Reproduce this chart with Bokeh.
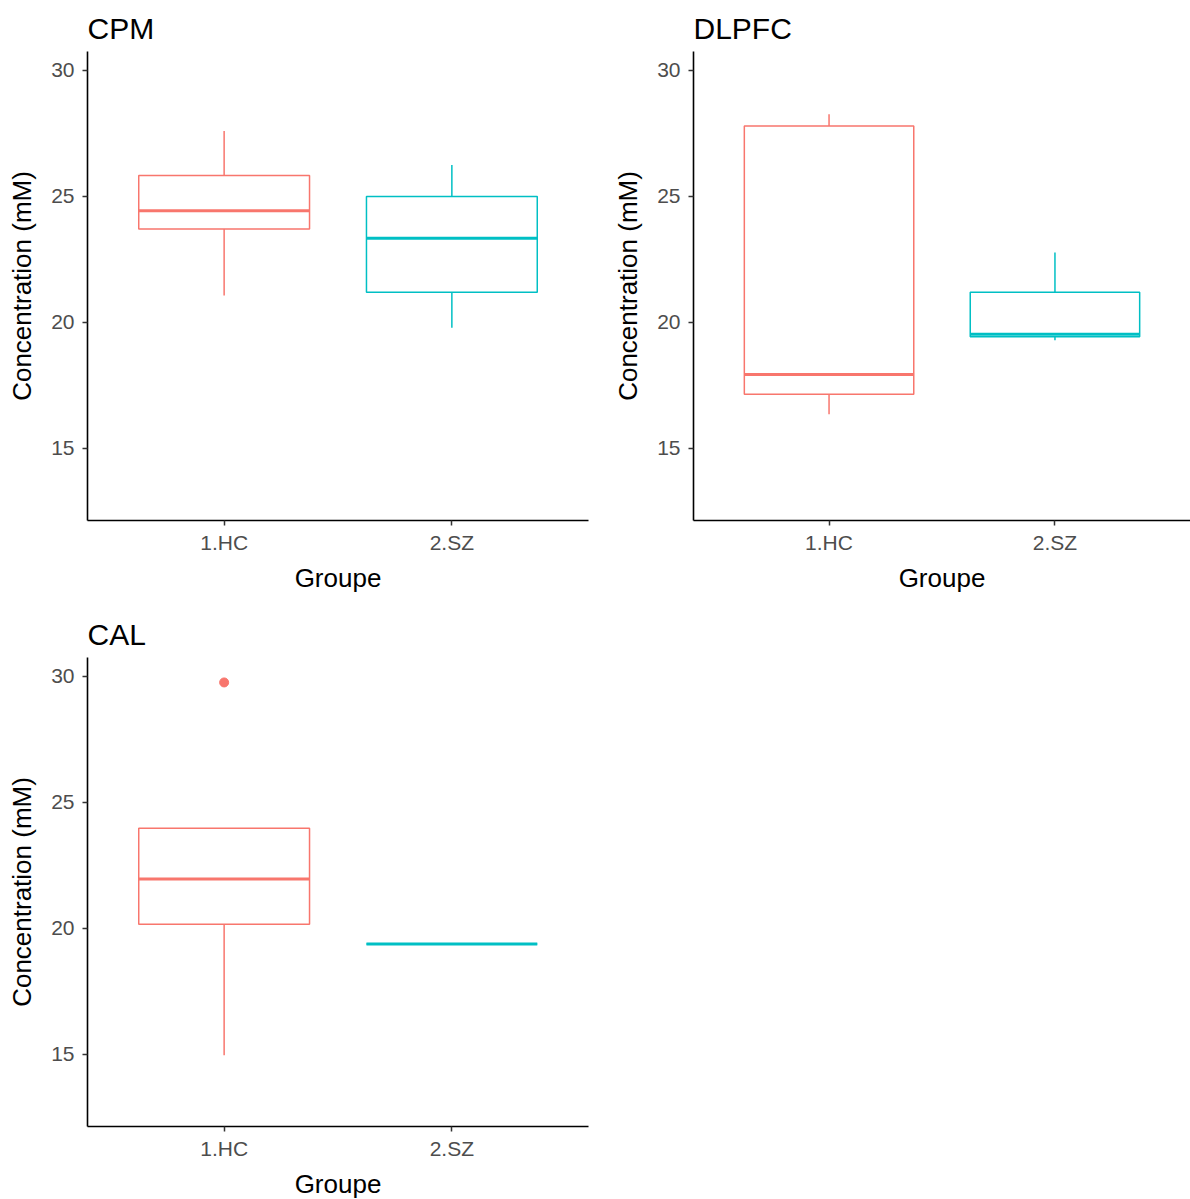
from bokeh.plotting import figure
from bokeh.layouts import column, row
from bokeh.models import FactorRange, Range1d, FixedTicker, ColumnDataSource
from bokeh.transform import dodge
from bokeh.embed import file_html
from bokeh.resources import INLINE

# ---------------- data ----------------
groups = ["1.HC", "2.SZ"]
group_colors = ["#F8766D", "#00BFC4"]

cpm_low = [21.07, 19.79]
cpm_q1 = [23.71, 21.20]
cpm_med = [24.43, 23.34]
cpm_q3 = [25.83, 25.00]
cpm_high = [27.60, 26.25]

dlpfc_low = [16.36, 19.29]
dlpfc_q1 = [17.15, 19.43]
dlpfc_med = [17.93, 19.53]
dlpfc_q3 = [27.79, 21.20]
dlpfc_high = [28.26, 22.77]

cal_low = [14.97, 19.38]
cal_q1 = [20.17, 19.38]
cal_med = [21.96, 19.38]
cal_q3 = [23.97, 19.38]
cal_high = [23.97, 19.38]
cal_out_group = ["1.HC"]
cal_out_value = [29.76]

y_ticks = [15, 20, 25, 30]
y_limits = (12.14, 30.75)

FONT = "Liberation Sans"
BOX_W = 0.75


def make_panel(title, low, q1, med, q3, high, out_g, out_v,
               b_left, b_right, b_top, b_bottom, fw):
    p = figure(
        x_range=FactorRange(*groups, range_padding=0.1, range_padding_units="absolute"),
        y_range=Range1d(*y_limits),
        frame_width=fw, frame_height=469,
        min_border_left=b_left, min_border_right=b_right,
        min_border_top=b_top, min_border_bottom=b_bottom,
        output_backend="svg", toolbar_location=None,
        title=title,
    )
    p.outline_line_color = None
    p.xgrid.visible = False
    p.ygrid.visible = False
    p.background_fill_color = "white"
    p.border_fill_color = "white"

    p.title.text_font = FONT
    p.title.text_font_size = "30px"
    p.title.text_font_style = "normal"
    p.title.text_color = "black"
    p.title.align = "left"
    p.title.standoff = 13

    for ax in (p.xaxis[0], p.yaxis[0]):
        ax.axis_line_color = "black"
        ax.axis_line_width = 1.6
        ax.major_tick_line_color = "#333333"
        ax.major_tick_line_width = 1.5
        ax.major_tick_out = 5
        ax.major_tick_in = 0
        ax.minor_tick_line_color = None
        ax.major_label_text_font = FONT
        ax.major_label_text_font_size = "21px"
        ax.major_label_text_color = "#4D4D4D"
        ax.axis_label_text_font = FONT
        ax.axis_label_text_font_size = "26px"
        ax.axis_label_text_font_style = "normal"
        ax.axis_label_text_color = "black"

    p.yaxis[0].ticker = FixedTicker(ticks=y_ticks)
    p.yaxis[0].axis_label = "Concentration (mM)"
    p.yaxis[0].major_label_standoff = 8
    p.yaxis[0].axis_label_standoff = 11
    p.xaxis[0].axis_label = "Groupe"
    p.xaxis[0].major_label_standoff = 5
    p.xaxis[0].axis_label_standoff = 6

    src = ColumnDataSource(dict(g=groups, low=low, q1=q1, med=med, q3=q3,
                                high=high, c=group_colors))
    p.segment(x0="g", y0="q3", x1="g", y1="high", line_color="c", line_width=1.5, source=src)
    p.segment(x0="g", y0="q1", x1="g", y1="low", line_color="c", line_width=1.5, source=src)
    p.vbar(x="g", width=BOX_W, bottom="q1", top="q3", fill_color="white",
           line_color="c", line_width=1.5, source=src)
    p.segment(x0=dodge("g", -BOX_W / 2, range=p.x_range), y0="med",
              x1=dodge("g", BOX_W / 2, range=p.x_range), y1="med",
              line_color="c", line_width=3, line_cap="butt", source=src)
    if out_g:
        osrc = ColumnDataSource(dict(g=out_g, v=out_v))
        p.scatter(x="g", y="v", size=9, fill_color="#F8766D", line_color="#F8766D", source=osrc)
    return p


p1 = make_panel("CPM", cpm_low, cpm_q1, cpm_med, cpm_q3, cpm_high, [], [],
                87, 12, 51, 80, 501)
p2 = make_panel("DLPFC", dlpfc_low, dlpfc_q1, dlpfc_med, dlpfc_q3, dlpfc_high, [], [],
                93, 0, 51, 80, 497)
p3 = make_panel("CAL", cal_low, cal_q1, cal_med, cal_q3, cal_high, cal_out_group, cal_out_value,
                87, 12, 57, 65, 501)

layout = column(row(p1, p2), p3)
open("out.html", "w").write(file_html(layout, INLINE))
